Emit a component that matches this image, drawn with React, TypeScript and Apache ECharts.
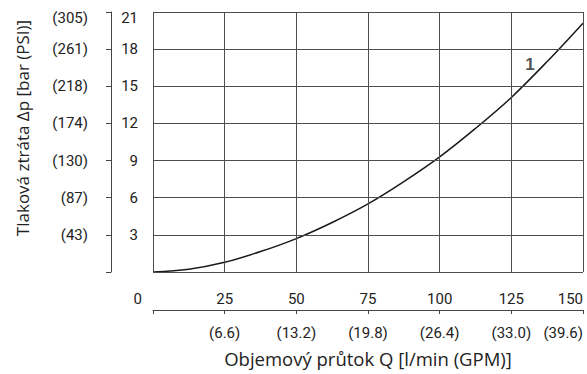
import React, { useEffect, useRef } from "react";
import * as echarts from "echarts";

// Flow Q [l/min] and pressure loss Δp [bar]
const flowLpm = [0, 12.5, 25, 37.5, 50, 62.5, 75, 87.5, 100, 112.5, 125, 137.5, 150];
const pressureBar = [0, 0.22, 0.78, 1.65, 2.7, 4.0, 5.5, 7.3, 9.3, 11.6, 14.1, 17.0, 20.1];

// Grid / tick values and tick labels
const xGridValues = [0, 25, 50, 75, 100, 125, 150];
const yGridValues = [0, 3, 6, 9, 12, 15, 18, 21];
const barTicks = ["", "3", "6", "9", "12", "15", "18", "21"];
const psiTicks = ["", "(43)", "(87)", "(130)", "(174)", "(218)", "(261)", "(305)"];
const lpmTicks = ["0", "25", "50", "75", "100", "125", "150"];
const gpmTicks = ["", "(6.6)", "(13.2)", "(19.8)", "(26.4)", "(33.0)", "(39.6)"];

// Curve label
const curveLabel = { q: 131.5, dp: 16.8, text: "1" };

const yTitle = "Tlaková ztráta Δp [bar (PSI)]";
const xTitle = "Objemový průtok Q [l/min (GPM)]";

const NUM_FONT = 'Roboto, "Liberation Sans", sans-serif';
const TITLE_FONT = '"Open Sans", "Noto Sans", sans-serif';
const TXT = "#222";
const GRID = "#4d4d4d";
const AXIS = "#444";
const NUM_SIZE = 15;

export default function App() {
  const ref = useRef<HTMLDivElement>(null);

  useEffect(() => {
    if (!ref.current) return;
    const chart = echarts.init(ref.current, undefined, { renderer: "svg" });
    const topRich = { fontSize: NUM_SIZE, fontFamily: NUM_FONT, color: TXT, padding: [12, 0, 0, 0] };
    const option: any = {
      animation: false,
      backgroundColor: "#fff",
      grid: { left: 153, top: 12, width: 430, height: 260, show: false },
      xAxis: [
        {
          type: "value", min: 0, max: 150, interval: 25, position: "bottom",
          axisLine: { show: false }, axisTick: { show: false }, axisLabel: { show: false },
          splitLine: { show: false },
        },
        {
          type: "value", position: "bottom", offset: 38, min: 0, max: 150, interval: 25,
          axisLine: { show: true, onZero: false, lineStyle: { color: AXIS, width: 1 } },
          axisTick: { show: true, length: 4, lineStyle: { color: AXIS } },
          splitLine: { show: false },
          axisLabel: {
            margin: 15, fontSize: NUM_SIZE, fontFamily: NUM_FONT, color: TXT, alignMaxLabel: "right", hideOverlap: false,
            formatter: (v: number) => gpmTicks[xGridValues.indexOf(v)] ?? "",
          },
          name: xTitle, nameLocation: "middle", nameGap: 39,
          nameTextStyle: { fontFamily: TITLE_FONT, fontSize: 18.5, color: TXT },
        },
        {
          type: "value", position: "bottom", offset: 38, min: 0, max: 150, interval: 25,
          axisLine: { show: false, onZero: false }, axisTick: { show: false }, splitLine: { show: false },
          axisLabel: {
            inside: true, margin: 4, fontSize: NUM_SIZE, fontFamily: NUM_FONT, color: TXT, hideOverlap: false,
            alignMinLabel: "right", alignMaxLabel: "right",
            formatter: (v: number) => {
              const t = lpmTicks[xGridValues.indexOf(v)] ?? "";
              return v === 0 ? `{z|${t}}` : t;
            },
            rich: { z: { fontSize: NUM_SIZE, fontFamily: NUM_FONT, color: TXT, padding: [0, 11, 0, 0] } },
          },
        },
      ],
      yAxis: [
        {
          type: "value", min: 0, max: 21, interval: 3, position: "left",
          axisLine: { show: false }, axisTick: { show: false }, axisLabel: { show: false },
          splitLine: { show: false },
        },
        {
          type: "value", position: "left", offset: 42, min: 0, max: 21, interval: 3,
          axisLine: { show: true, onZero: false, lineStyle: { color: AXIS, width: 1 } },
          axisTick: { show: true, length: 5, lineStyle: { color: AXIS } },
          splitLine: { show: false },
          axisLabel: {
            inside: true, align: "right", margin: 27, fontSize: NUM_SIZE, fontFamily: NUM_FONT, color: TXT, hideOverlap: false,
            formatter: (v: number) => {
              const t = barTicks[yGridValues.indexOf(v)] ?? "";
              return v === 21 ? `{t|${t}}` : t;
            },
            rich: { t: topRich },
          },
        },
        {
          type: "value", position: "left", offset: 42, min: 0, max: 21, interval: 3,
          axisLine: { show: false, onZero: false }, axisTick: { show: false }, splitLine: { show: false },
          axisLabel: {
            margin: 23, fontSize: NUM_SIZE, fontFamily: NUM_FONT, color: TXT, hideOverlap: false,
            formatter: (v: number) => {
              const t = psiTicks[yGridValues.indexOf(v)] ?? "";
              return v === 21 ? `{t|${t}}` : t;
            },
            rich: { t: topRich },
          },
        },
      ],
      series: [
        {
          type: "scatter", xAxisIndex: 0, yAxisIndex: 0,
          data: [[curveLabel.q, curveLabel.dp]],
          symbolSize: 0, silent: true,
          label: {
            show: true, position: "inside", formatter: curveLabel.text,
            fontSize: 17, fontWeight: "bold", fontFamily: '"Liberation Sans", Arial, sans-serif', color: TXT,
          },
          markLine: {
            silent: true, symbol: ["none", "none"],
            label: { show: false },
            lineStyle: { color: GRID, width: 1, type: "solid" },
            data: [
              ...xGridValues.map((v) => ({ xAxis: v })),
              ...yGridValues.map((v) => ({ yAxis: v })),
            ],
          },
        },
        {
          type: "line", xAxisIndex: 0, yAxisIndex: 0,
          data: flowLpm.map((q, i) => [q, pressureBar[i]]),
          smooth: 0.35, symbol: "none",
          lineStyle: { color: "#1a1a1a", width: 1.5 },
        },
      ],
      graphic: [
        {
          type: "text", x: 22, y: 128, rotation: Math.PI / 2,
          style: { text: yTitle, fontFamily: TITLE_FONT, fontSize: 17, fill: TXT, align: "center", verticalAlign: "middle" },
        },
      ],
    };
    chart.setOption(option);
    return () => chart.dispose();
  }, []);

  return <div ref={ref} style={{ position: "fixed", left: 0, top: 0, width: 587, height: 374 }} />;
}
